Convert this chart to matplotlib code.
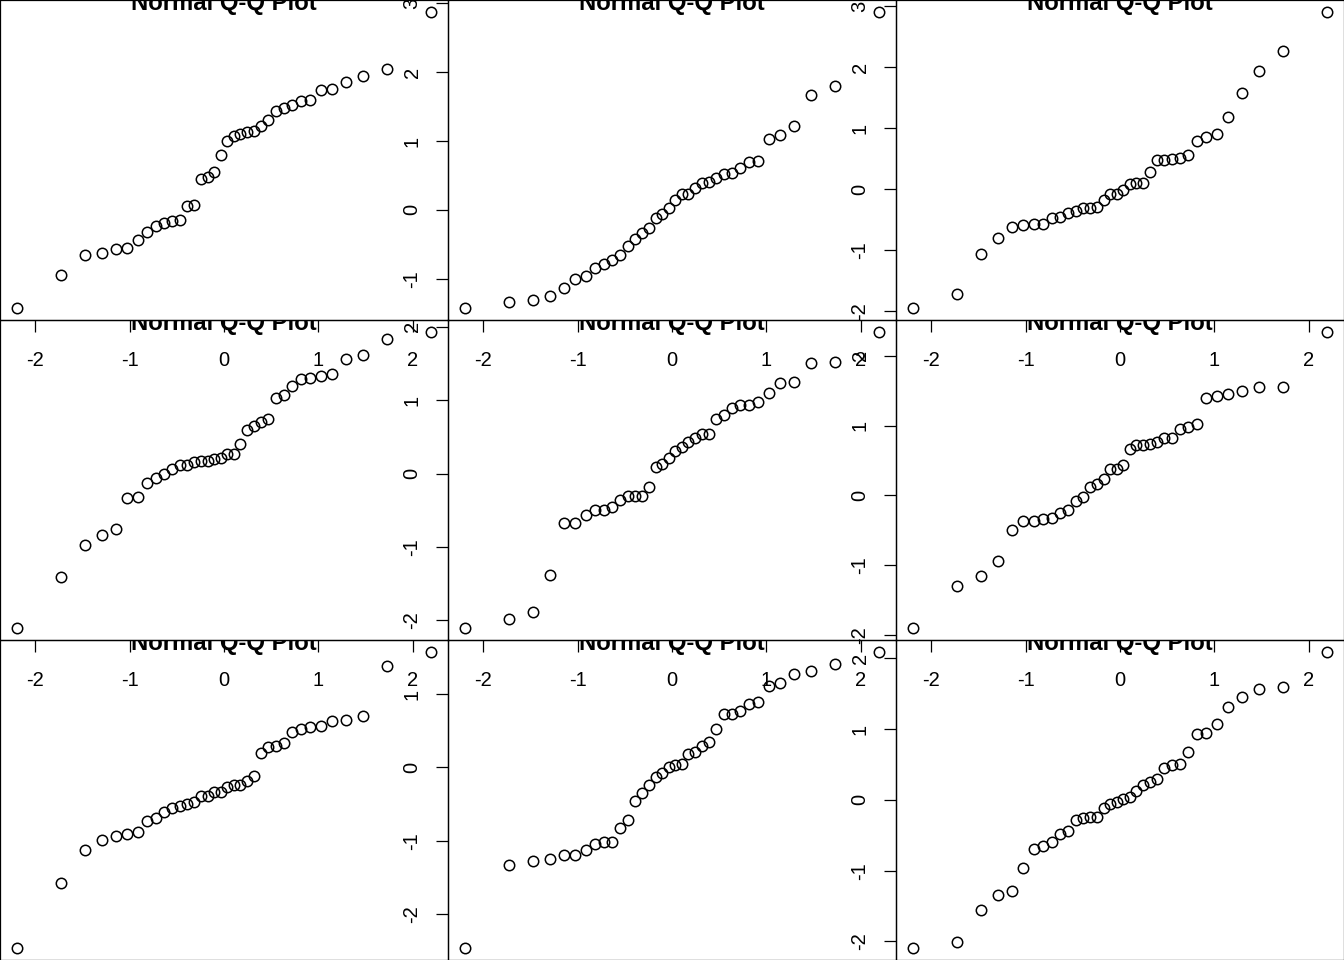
import numpy as np
import matplotlib
matplotlib.use("Agg")
import matplotlib.pyplot as plt
from matplotlib.ticker import MultipleLocator
from statistics import NormalDist

plt.rcParams['font.family'] = ['Liberation Sans', 'DejaVu Sans']
plt.rcParams['axes.unicode_minus'] = False

# 3x3 grid of normal Q-Q plots, 36 sorted sample values per panel (row by row)
n = 36

s1 = [-1.425, -0.942, -0.652, -0.618, -0.560, -0.546, -0.430, -0.324, -0.227, -0.193,
      -0.164, -0.140, 0.063, 0.077, 0.454, 0.473, 0.556, 0.792, 1.005, 1.072,
      1.106, 1.135, 1.150, 1.213, 1.300, 1.430, 1.483, 1.527, 1.584, 1.599,
      1.744, 1.754, 1.860, 1.947, 2.048, 2.874]
s2 = [-1.425, -1.343, -1.314, -1.251, -1.126, -1.005, -0.952, -0.845, -0.783, -0.729,
      -0.647, -0.517, -0.425, -0.338, -0.261, -0.111, -0.063, 0.029, 0.145, 0.227,
      0.237, 0.314, 0.386, 0.401, 0.459, 0.517, 0.531, 0.604, 0.700, 0.710,
      1.034, 1.092, 1.222, 1.671, 1.802, 2.874]
s3 = [-1.956, -1.716, -1.060, -0.798, -0.617, -0.585, -0.568, -0.568, -0.470, -0.454,
      -0.399, -0.366, -0.317, -0.306, -0.290, -0.175, -0.087, -0.077, -0.022, 0.077,
      0.104, 0.104, 0.284, 0.481, 0.481, 0.492, 0.508, 0.563, 0.787, 0.858,
      0.902, 1.180, 1.579, 1.940, 2.262, 2.907]
s4 = [-2.109, -1.415, -0.980, -0.844, -0.762, -0.340, -0.327, -0.136, -0.068, 0.000,
      0.059, 0.120, 0.120, 0.163, 0.177, 0.177, 0.204, 0.209, 0.263, 0.272,
      0.408, 0.599, 0.653, 0.698, 0.748, 1.034, 1.075, 1.197, 1.293, 1.306,
      1.329, 1.351, 1.565, 1.619, 1.837, 1.932]
s5 = [-2.109, -1.986, -1.891, -1.379, -0.680, -0.680, -0.571, -0.503, -0.494, -0.458,
      -0.358, -0.313, -0.313, -0.313, -0.190, 0.095, 0.127, 0.213, 0.308, 0.367,
      0.426, 0.490, 0.535, 0.544, 0.748, 0.803, 0.898, 0.934, 0.934, 0.980,
      1.102, 1.238, 1.247, 1.510, 1.524, 1.932]
s6 = [-1.900, -1.300, -1.148, -0.943, -0.500, -0.371, -0.362, -0.333, -0.319, -0.257,
      -0.205, -0.086, -0.029, 0.124, 0.171, 0.229, 0.381, 0.381, 0.443, 0.671,
      0.719, 0.719, 0.738, 0.771, 0.824, 0.829, 0.952, 0.986, 1.029, 1.395,
      1.424, 1.457, 1.495, 1.557, 1.557, 2.343]
s7 = [-2.465, -1.580, -1.130, -0.985, -0.940, -0.912, -0.885, -0.726, -0.695, -0.608,
      -0.558, -0.527, -0.499, -0.463, -0.390, -0.390, -0.340, -0.340, -0.259, -0.241,
      -0.232, -0.186, -0.109, 0.204, 0.277, 0.295, 0.340, 0.486, 0.531, 0.554,
      0.567, 0.640, 0.649, 0.708, 1.389, 1.580]
s8 = [-2.465, -1.325, -1.271, -1.244, -1.189, -1.189, -1.121, -1.039, -1.021, -1.012,
      -0.831, -0.713, -0.454, -0.350, -0.245, -0.136, -0.077, 0.005, 0.027, 0.050,
      0.186, 0.204, 0.286, 0.340, 0.527, 0.731, 0.731, 0.772, 0.858, 0.894,
      1.103, 1.144, 1.276, 1.316, 1.416, 1.575]
s9 = [-2.094, -2.009, -1.559, -1.347, -1.291, -0.967, -0.700, -0.657, -0.601, -0.484,
      -0.446, -0.282, -0.263, -0.249, -0.249, -0.122, -0.056, -0.028, 0.005, 0.038,
      0.131, 0.211, 0.258, 0.300, 0.455, 0.498, 0.507, 0.681, 0.930, 0.948,
      1.075, 1.310, 1.451, 1.563, 1.592, 2.089]

samples = [s1, s2, s3, s4, s5, s6, s7, s8, s9]
title = "Normal Q-Q Plot"

# theoretical quantiles as in qqnorm (ppoints with a=1/2)
theo = [NormalDist().inv_cdf((i - 0.5) / n) for i in range(1, n + 1)]

fig = plt.figure(figsize=(13.44, 9.6), dpi=100)

for k, s in enumerate(samples):
    r, c = divmod(k, 3)
    ax = fig.add_axes([c / 3, 1 - (r + 1) / 3, 1 / 3, 1 / 3])
    ax.set_facecolor('none')
    ax.plot(theo, np.sort(s), 'o', mfc='none', mec='black', ms=7.5, mew=1.1)
    ax.margins(0.04)
    ax.xaxis.set_major_locator(MultipleLocator(1))
    ax.yaxis.set_major_locator(MultipleLocator(1))
    ax.tick_params(direction='out', length=8.5, width=0.9, labelsize=14.5, pad=13.5)
    ax.tick_params(axis='y', labelrotation=90, pad=10.5)
    plt.setp(ax.yaxis.get_majorticklabels(), va='center')
    for sp in ax.spines.values():
        sp.set_linewidth(0.9)
    # main title sits on the top border (mar = 0), only its lower part shows
    t = ax.text(0.5, 1 - 10 / 320, title, transform=ax.transAxes, ha='center',
                va='baseline', fontsize=17.2, fontweight='bold', clip_on=True)
    t.set_clip_path(ax.patch)

fig.savefig("out.png", dpi=100)
